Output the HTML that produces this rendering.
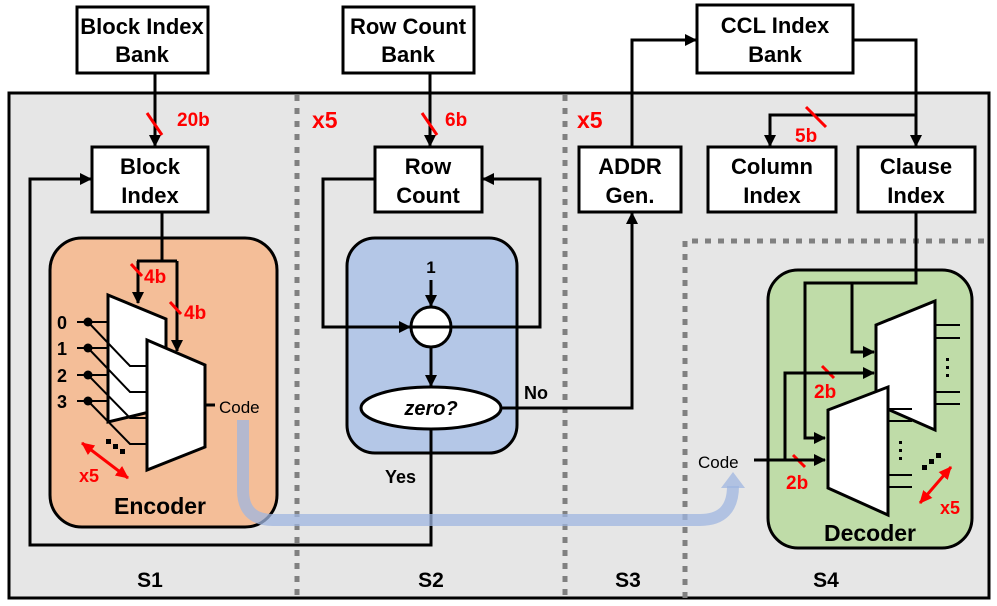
<!DOCTYPE html>
<html><head><meta charset="utf-8"><style>html,body{margin:0;padding:0;background:#fff}svg{display:block}text{font-family:"Liberation Sans",Arial,sans-serif;font-weight:bold}</style></head><body>
<svg width="997" height="606" viewBox="0 0 997 606" xmlns="http://www.w3.org/2000/svg">
<defs>
<marker id="a" markerWidth="12" markerHeight="12" refX="11" refY="6" orient="auto" markerUnits="userSpaceOnUse"><path d="M0,0 L12,6 L0,12 z" fill="#000"/></marker>
<marker id="r" markerWidth="14" markerHeight="14" refX="12" refY="7" orient="auto-start-reverse" markerUnits="userSpaceOnUse"><path d="M0,1 L13,7 L0,13 z" fill="#f00"/></marker>
</defs>
<rect x="9" y="93" width="980" height="505" fill="#e6e6e6" stroke="#000" stroke-width="3"/>
<g stroke="#808080" stroke-width="5" stroke-dasharray="6,7" fill="none">
<line x1="297" y1="95" x2="297" y2="598"/><line x1="565" y1="95" x2="565" y2="598"/>
<polyline points="685,598 685,241 987,241"/>
</g>
<rect x="50" y="238" width="227" height="289" rx="32" fill="#f4be98" stroke="#000" stroke-width="3"/>
<rect x="347" y="238" width="170" height="215" rx="28" fill="#b4c7e7" stroke="#000" stroke-width="3"/>
<rect x="768" y="270" width="204" height="278" rx="30" fill="#bfdca8" stroke="#000" stroke-width="3"/>
<g fill="#fff" stroke="#000" stroke-width="3">
<rect x="77" y="7" width="131" height="66"/><rect x="343" y="7" width="131" height="66"/><rect x="697" y="5" width="156" height="68"/>
<rect x="92" y="147" width="116" height="65"/><rect x="375" y="147" width="107" height="65"/><rect x="579" y="147" width="102" height="65"/>
<rect x="708" y="147" width="128" height="65"/><rect x="858" y="147" width="117" height="65"/>
</g>
<g font-size="22" text-anchor="middle" fill="#000">
<text x="142" y="34">Block Index</text><text x="142" y="62">Bank</text>
<text x="408" y="34">Row Count</text><text x="408" y="62">Bank</text>
<text x="775" y="33">CCL Index</text><text x="775" y="62">Bank</text>
<text x="150" y="174">Block</text><text x="150" y="203">Index</text>
<text x="428" y="174">Row</text><text x="428" y="203">Count</text>
<text x="630" y="174">ADDR</text><text x="630" y="203">Gen.</text>
<text x="772" y="174">Column</text><text x="772" y="203">Index</text>
<text x="916" y="174">Clause</text><text x="916" y="203">Index</text>
</g>
<g stroke="#000" stroke-width="3" fill="none">
<line x1="155" y1="73" x2="155" y2="146" marker-end="url(#a)"/>
<line x1="430" y1="73" x2="430" y2="146" marker-end="url(#a)"/>
<polyline points="632,147 632,40 696,40" marker-end="url(#a)"/>
<polyline points="853,40 916,40 916,146" marker-end="url(#a)"/>
<polyline points="916,115 770,115 770,146" marker-end="url(#a)"/>
<polyline points="375,179 323,179 323,327 410,327" marker-end="url(#a)"/>
<polyline points="451,327 540,327 540,179 483,179" marker-end="url(#a)"/>
<line x1="431" y1="280" x2="431" y2="306" marker-end="url(#a)"/>
<line x1="431" y1="347" x2="431" y2="386" marker-end="url(#a)"/>
<polyline points="501,408 632,408 632,213" marker-end="url(#a)"/>
<polyline points="431,430 431,545 30,545 30,179 91,179" marker-end="url(#a)"/>
<polyline points="162,212 162,261"/>
<polyline points="137,261 177,261"/>
<line x1="138" y1="261" x2="138" y2="303" marker-end="url(#a)"/>
<line x1="177" y1="261" x2="177" y2="351" marker-end="url(#a)"/>
</g>
<g stroke="#000" stroke-width="3">
<polygon points="108,295 166,319 166,408 108,422" fill="#fff"/>
<g stroke-width="2" fill="none">
<line x1="77" y1="322" x2="108" y2="322"/><line x1="77" y1="348" x2="108" y2="348"/><line x1="77" y1="375" x2="108" y2="375"/><line x1="77" y1="401" x2="108" y2="401"/>
<polyline points="88,322 130,366 147,366"/><polyline points="88,348 130,392 147,392"/><polyline points="88,375 130,418 147,418"/><polyline points="88,401 130,444 147,444"/>
</g>
<polygon points="147,340 205,365 205,447 147,470" fill="#fff"/>
<line x1="205" y1="405" x2="215" y2="405"/>
</g>
<g fill="#000"><circle cx="88" cy="322" r="4.5"/><circle cx="88" cy="348" r="4.5"/><circle cx="88" cy="375" r="4.5"/><circle cx="88" cy="401" r="4.5"/>
<rect x="106" y="439" width="5" height="5"/><rect x="113" y="444" width="5" height="5"/><rect x="120" y="449" width="5" height="5"/></g>
<g font-size="18" fill="#000"><text x="57" y="329">0</text><text x="57" y="355">1</text><text x="57" y="382">2</text><text x="57" y="408">3</text></g>
<text x="219" y="413" font-size="17" style="font-weight:normal">Code</text>
<line x1="82" y1="443" x2="128" y2="478" stroke="#f00" stroke-width="3" marker-start="url(#r)" marker-end="url(#r)"/>
<text x="79" y="482" font-size="18" fill="#f00">x5</text>
<text x="160" y="514" font-size="23" text-anchor="middle">Encoder</text>
<path d="M243,420 L243,490 Q243,520 273,520 L700,520 Q733,520 733,486" stroke="#9fb6e0" stroke-opacity="0.75" stroke-width="12" fill="none"/>
<path d="M721,488 L733,472 L745,488 z" fill="#9fb6e0" fill-opacity="0.75"/>
<circle cx="431" cy="327" r="20" fill="#fff" stroke="#000" stroke-width="3"/>
<line x1="411" y1="327" x2="451" y2="327" stroke="#000" stroke-width="3"/>
<ellipse cx="431" cy="408" rx="70" ry="21" fill="#fff" stroke="#000" stroke-width="3"/>
<text x="431" y="415" font-size="20" text-anchor="middle" font-style="italic">zero?</text>
<text x="431" y="273" font-size="17" text-anchor="middle">1</text>
<text x="524" y="399" font-size="18">No</text>
<text x="385" y="483" font-size="18">Yes</text>
<g stroke="#f00" stroke-width="3">
<line x1="147" y1="113" x2="162" y2="135"/><line x1="422" y1="113" x2="437" y2="135"/><line x1="806" y1="107" x2="826" y2="127"/>
<line x1="131" y1="264" x2="142" y2="276"/><line x1="170" y1="302" x2="181" y2="314"/>
<line x1="822" y1="366" x2="834" y2="378"/><line x1="793" y1="455" x2="805" y2="467"/>
</g>
<g fill="#f00" font-size="19"><text x="177" y="126">20b</text><text x="445" y="126">6b</text><text x="795" y="142">5b</text>
<text x="144" y="283">4b</text><text x="184" y="319">4b</text><text x="814" y="398">2b</text><text x="786" y="489">2b</text></g>
<g fill="#f00" font-size="23"><text x="312" y="128">x5</text><text x="577" y="128">x5</text></g>
<g stroke="#000" stroke-width="3" fill="none">
<polyline points="916,212 916,283 805,283 805,438 825,438" marker-end="url(#a)"/>
<polyline points="852,283 852,352 874,352" marker-end="url(#a)"/>
<polyline points="785,460 785,373 874,373" marker-end="url(#a)"/>
<line x1="754" y1="460" x2="825" y2="460" marker-end="url(#a)"/>
</g>
<g stroke="#000" stroke-width="3">
<polygon points="876,325 935,301 935,430 876,404" fill="#fff"/>
<g stroke-width="2"><line x1="935" y1="325" x2="960" y2="325"/><line x1="935" y1="338" x2="960" y2="338"/><line x1="935" y1="392" x2="960" y2="392"/><line x1="935" y1="404" x2="960" y2="404"/>
<line x1="888" y1="409" x2="912" y2="409"/><line x1="888" y1="421" x2="912" y2="421"/><line x1="888" y1="475" x2="912" y2="475"/><line x1="888" y1="487" x2="912" y2="487"/></g>
<polygon points="828,410 888,387 888,515 828,488" fill="#fff"/>
</g>
<g fill="#000"><rect x="946" y="358" width="3" height="3"/><rect x="946" y="366" width="3" height="3"/><rect x="946" y="374" width="3" height="3"/>
<rect x="899" y="441" width="3" height="3"/><rect x="899" y="449" width="3" height="3"/><rect x="899" y="457" width="3" height="3"/>
<rect x="922" y="465" width="5" height="5"/><rect x="929" y="459" width="5" height="5"/><rect x="936" y="453" width="5" height="5"/></g>
<line x1="920" y1="503" x2="951" y2="467" stroke="#f00" stroke-width="3" marker-start="url(#r)" marker-end="url(#r)"/>
<text x="940" y="514" font-size="18" fill="#f00">x5</text>
<text x="698" y="468" font-size="17" style="font-weight:normal">Code</text>
<text x="870" y="541" font-size="23" text-anchor="middle">Decoder</text>
<g font-size="21" text-anchor="middle"><text x="150" y="587">S1</text><text x="431" y="587">S2</text><text x="628" y="587">S3</text><text x="826" y="587">S4</text></g>
</svg>
</body></html>
